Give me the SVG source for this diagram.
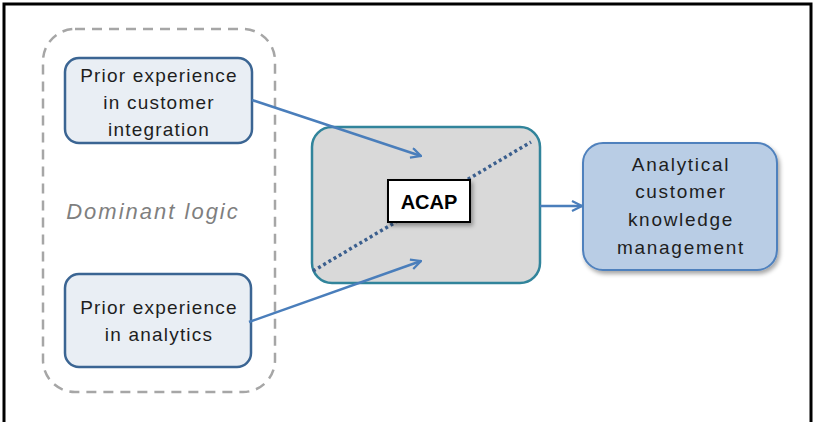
<svg xmlns="http://www.w3.org/2000/svg" width="821" height="422" viewBox="0 0 821 422">
<style>
text{font-family:"Liberation Sans",Arial,sans-serif;fill:#1e1e1e;text-anchor:middle}
.lbl{font-size:19px;letter-spacing:1.2px}
.lbr{font-size:19px;letter-spacing:1.7px}
.src{fill:#e9eef4;stroke:#3b6593;stroke-width:2.5}
.conn{stroke:#4a7ebb;stroke-width:2.5;fill:none;marker-end:url(#arr)}
</style>
<defs>
<marker id="arr" viewBox="0 0 12 12" refX="11" refY="6" markerWidth="12" markerHeight="12" markerUnits="userSpaceOnUse" orient="auto">
<path d="M1,1 L11,6 L1,11" fill="none" stroke="#4a7ebb" stroke-width="2.2"/>
</marker>
<filter id="sh" x="-20%" y="-20%" width="150%" height="150%">
<feDropShadow dx="2" dy="3" stdDeviation="2" flood-color="#000" flood-opacity="0.35"/>
</filter>
</defs>
<rect x="0" y="0" width="821" height="422" fill="#fff"/>
<rect x="4" y="4" width="807" height="430" fill="none" stroke="#000" stroke-width="3"/>
<g id="dominant-logic">
<rect x="43" y="29" width="232" height="363" rx="32" fill="none" stroke="#a6a6a6" stroke-width="2.5" stroke-dasharray="10,7"/>
<text x="153" y="219" font-size="22" font-style="italic" letter-spacing="2" style="fill:#7f7f7f">Dominant logic</text>
</g>
<g id="prior-customer">
<rect class="src" x="65" y="58" width="187" height="85" rx="14"/>
<text class="lbl" x="159" y="82">Prior experience</text>
<text class="lbl" x="159" y="109">in customer</text>
<text class="lbl" x="159" y="136">integration</text>
</g>
<g id="prior-analytics">
<rect class="src" x="65" y="274" width="186" height="93" rx="14"/>
<text class="lbl" x="159" y="314">Prior experience</text>
<text class="lbl" x="159" y="341">in analytics</text>
</g>
<g id="acap">
<rect x="312" y="127" width="228" height="156" rx="20" fill="#d9d9d9" stroke="#31849b" stroke-width="2.5"/>
<line x1="313" y1="271" x2="531" y2="142" stroke="#3b5f8e" stroke-width="3.5" stroke-dasharray="3,3"/>
<rect x="388" y="180" width="82" height="42" fill="#fff" stroke="#000" stroke-width="2" filter="url(#sh)"/>
<text x="429" y="209" font-size="20" font-weight="bold" style="fill:#000">ACAP</text>
</g>
<g id="acm">
<rect x="583" y="143" width="194" height="127" rx="20" fill="#b9cde5" stroke="#4f81bd" stroke-width="2" filter="url(#sh)"/>
<text class="lbr" x="681" y="171">Analytical</text>
<text class="lbr" x="681" y="198">customer</text>
<text class="lbr" x="681" y="226">knowledge</text>
<text class="lbr" x="681" y="254">management</text>
</g>
<g id="connectors">
<line class="conn" x1="252" y1="100" x2="421" y2="156"/>
<line class="conn" x1="249" y1="322" x2="421" y2="261"/>
<line class="conn" x1="540" y1="206" x2="582" y2="206"/>
</g>
</svg>
